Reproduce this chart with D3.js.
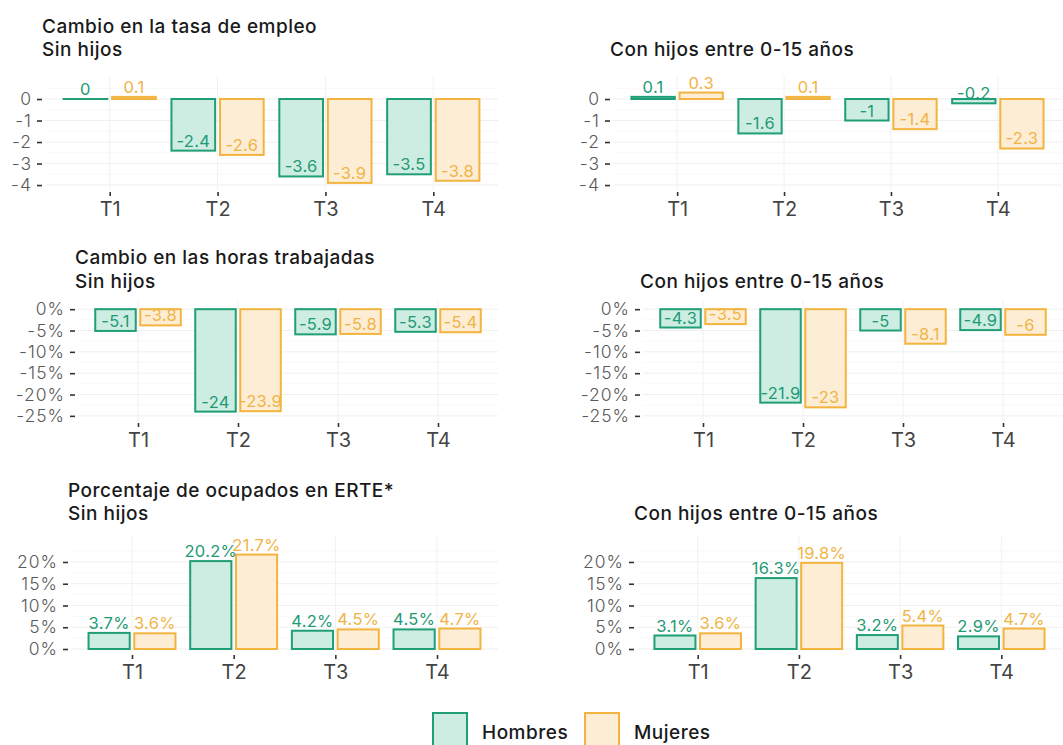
<!DOCTYPE html>
<html>
<head>
<meta charset="utf-8">
<script src="https://cdn.jsdelivr.net/npm/d3@7"></script>
<style>
  html, body { margin: 0; padding: 0; background: #ffffff; }
  svg { display: block; font-family: Inter, "Noto Sans", sans-serif; }
</style>
</head>
<body>
<svg id="chart" width="1063" height="745"></svg>
<script>
// Quarters and groups
const categories = ["T1", "T2", "T3", "T4"];
const groups = ["Hombres", "Mujeres"];

// Change in employment rate (points)
const empleoSinHijosHombres = [0, -2.4, -3.6, -3.5];
const empleoSinHijosMujeres = [0.1, -2.6, -3.9, -3.8];
const empleoConHijosHombres = [0.1, -1.6, -1, -0.2];
const empleoConHijosMujeres = [0.3, 0.1, -1.4, -2.3];

// Change in hours worked (%)
const horasSinHijosHombres = [-5.1, -24, -5.9, -5.3];
const horasSinHijosMujeres = [-3.8, -23.9, -5.8, -5.4];
const horasConHijosHombres = [-4.3, -21.9, -5, -4.9];
const horasConHijosMujeres = [-3.5, -23, -8.1, -6];

// Share of employed people in ERTE (%)
const erteSinHijosHombres = [3.7, 20.2, 4.2, 4.5];
const erteSinHijosMujeres = [3.6, 21.7, 4.5, 4.7];
const erteConHijosHombres = [3.1, 16.3, 3.2, 2.9];
const erteConHijosMujeres = [3.6, 19.8, 5.4, 4.7];

// Axis ticks
const ticksEmpleo = [0, -1, -2, -3, -4];
const ticksHoras = [0, -5, -10, -15, -20, -25];
const ticksErte = [0, 5, 10, 15, 20];

// Titles
const titleEmpleo = ["Cambio en la tasa de empleo", "Sin hijos"];
const titleHoras = ["Cambio en las horas trabajadas", "Sin hijos"];
const titleErte = ["Porcentaje de ocupados en ERTE*", "Sin hijos"];
const titleCon = ["Con hijos entre 0-15 años"];

const stroke = { Hombres: "#1f9e78", Mujeres: "#f2b43e" };
const fill = { Hombres: "#cdede2", Mujeres: "#fdedd5" };
const textColor = { Hombres: "#1f9a75", Mujeres: "#f0b445" };

const svg = d3.select("#chart");

// Panel layout: plotting area and y-domain for each facet
const panels = [
  { title: titleEmpleo, h: empleoSinHijosHombres, m: empleoSinHijosMujeres, ticks: ticksEmpleo, pct: false, lab: "",
    left: 45, right: 498, top: 76, bottom: 190, domain: [-4.23, 1.07], titleY: [33, 56] },
  { title: titleCon, h: empleoConHijosHombres, m: empleoConHijosMujeres, ticks: ticksEmpleo, pct: false, lab: "",
    left: 613, right: 1062, top: 76, bottom: 190, domain: [-4.23, 1.07], titleY: [56] },
  { title: titleHoras, h: horasSinHijosHombres, m: horasSinHijosMujeres, ticks: ticksHoras, pct: true, lab: "",
    left: 78, right: 498, top: 300, bottom: 421, domain: [-26.2, 2.15], titleY: [264, 288] },
  { title: titleCon, h: horasConHijosHombres, m: horasConHijosMujeres, ticks: ticksHoras, pct: true, lab: "",
    left: 643, right: 1063, top: 300, bottom: 421, domain: [-26.2, 2.15], titleY: [288] },
  { title: titleErte, h: erteSinHijosHombres, m: erteSinHijosMujeres, ticks: ticksErte, pct: true, lab: "%",
    left: 71, right: 498, top: 535, bottom: 653, domain: [-0.92, 26.2], titleY: [497, 520] },
  { title: titleCon, h: erteConHijosHombres, m: erteConHijosMujeres, ticks: ticksErte, pct: true, lab: "%",
    left: 637, right: 1062, top: 535, bottom: 653, domain: [-0.92, 26.2], titleY: [520] }
];

panels.forEach(p => {
  const g = svg.append("g");
  const x = d3.scalePoint().domain(categories).range([p.left, p.right]).padding(0.6);
  const step = x.step();
  const y = d3.scaleLinear().domain(p.domain).range([p.bottom, p.top]);
  const sub = d3.scaleBand().domain(groups).range([-0.45 * step, 0.45 * step])
    .paddingInner(0.1).paddingOuter(0.05);

  // grid: minor then major
  const tstep = p.ticks[1] - p.ticks[0];
  const minor = p.ticks.map(t => t + tstep / 2)
    .concat([p.ticks[0] - tstep / 2])
    .filter(v => v > p.domain[0] && v < p.domain[1]);
  g.selectAll(".minor").data(minor).join("line")
    .attr("x1", p.left).attr("x2", p.right)
    .attr("y1", d => y(d)).attr("y2", d => y(d))
    .attr("stroke", "#f6f6f6").attr("stroke-width", 0.8);
  g.selectAll(".hmaj").data(p.ticks).join("line")
    .attr("x1", p.left).attr("x2", p.right)
    .attr("y1", d => y(d)).attr("y2", d => y(d))
    .attr("stroke", "#efefef").attr("stroke-width", 1);
  g.selectAll(".vmaj").data(categories).join("line")
    .attr("x1", d => x(d)).attr("x2", d => x(d))
    .attr("y1", p.top).attr("y2", p.bottom)
    .attr("stroke", "#f1f1f1").attr("stroke-width", 1);

  // y axis
  const yAxis = g.append("g").attr("transform", `translate(${p.left - 3},0)`)
    .call(d3.axisLeft(y).tickValues(p.ticks).tickSize(5).tickPadding(5)
      .tickFormat(d => p.pct ? d + "%" : String(d)));
  yAxis.select(".domain").remove();
  yAxis.selectAll(".tick line").attr("stroke", "#333").attr("stroke-width", 1.6);
  yAxis.selectAll(".tick text").attr("fill", "#5a5a5a").attr("font-size", 17.5)
    .attr("font-weight", 300).attr("letter-spacing", 1)
    .attr("font-family", "Inter, sans-serif");

  // x axis
  const xAxis = g.append("g").attr("transform", `translate(0,${p.bottom + 2})`)
    .call(d3.axisBottom(x).tickSize(4).tickPadding(6));
  xAxis.select(".domain").remove();
  xAxis.selectAll(".tick line").attr("stroke", "#333").attr("stroke-width", 1.6);
  xAxis.selectAll(".tick text").attr("fill", "#444").attr("font-size", 20)
    .attr("font-weight", 400).attr("font-family", "Inter, sans-serif");

  // bars
  const rows = [];
  categories.forEach((c, i) => {
    rows.push({ c, grp: "Hombres", v: p.h[i] });
    rows.push({ c, grp: "Mujeres", v: p.m[i] });
  });
  g.selectAll(".bar").data(rows).join("rect")
    .attr("x", d => x(d.c) + sub(d.grp))
    .attr("width", sub.bandwidth())
    .attr("y", d => Math.min(y(d.v), y(0)))
    .attr("height", d => Math.max(Math.abs(y(d.v) - y(0)), 0.01))
    .attr("fill", d => fill[d.grp])
    .attr("stroke", d => stroke[d.grp])
    .attr("stroke-width", 2);

  g.selectAll(".val").data(rows).join("text")
    .attr("x", d => x(d.c) + sub(d.grp) + sub.bandwidth() / 2)
    .attr("y", d => y(d.v) - 4)
    .attr("text-anchor", "middle")
    .attr("font-size", 16.5)
    .attr("letter-spacing", 0.3)
    .attr("fill", d => textColor[d.grp])
    .text(d => String(d.v) + p.lab);

  // title
  g.selectAll(".title").data(p.title).join("text")
    .attr("x", p.left - 3)
    .attr("y", (d, i) => p.titleY[i])
    .attr("font-size", 19).attr("font-weight", 500).attr("fill", "#1a1a1a")
    .attr("letter-spacing", 0.5)
    .text(d => d);
});

// legend
const legendX = { Hombres: 432, Mujeres: 584 };
const lg = svg.append("g");
lg.selectAll("rect").data(groups).join("rect")
  .attr("x", d => legendX[d] + 1).attr("y", 713)
  .attr("width", 34).attr("height", 36)
  .attr("fill", d => fill[d]).attr("stroke", d => stroke[d]).attr("stroke-width", 2);
lg.selectAll("text").data(groups).join("text")
  .attr("x", d => legendX[d] + 50).attr("y", 739)
  .attr("font-size", 19).attr("font-weight", 500).attr("fill", "#1a1a1a")
  .attr("letter-spacing", 0.5)
  .text(d => d);
</script>
</body>
</html>
